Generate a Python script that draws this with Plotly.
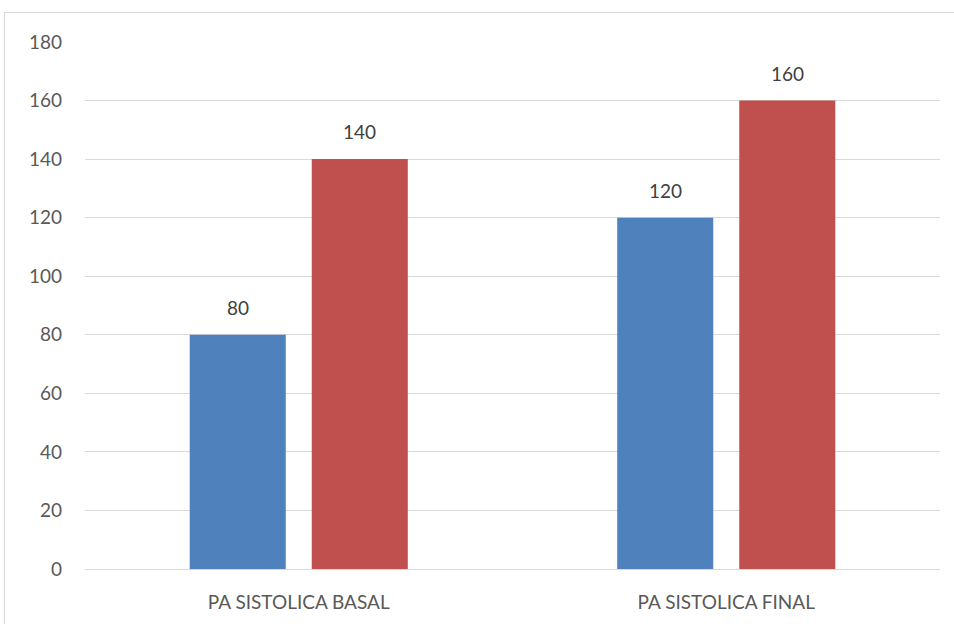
import plotly.graph_objects as go

# Chart data
categories = ["PA SISTOLICA BASAL", "PA SISTOLICA FINAL"]
serie_1 = [80, 120]
serie_2 = [140, 160]
y_ticks = [0, 20, 40, 60, 80, 100, 120, 140, 160, 180]

BLUE = "#4F81BD"
RED = "#C0504D"
FONT = "Lato, 'Open Sans', sans-serif"

fig = go.Figure()
fig.add_trace(go.Bar(x=categories, y=serie_1, marker=dict(color=BLUE, line=dict(width=0)),
                     name="Serie 1", hoverinfo="x+y"))
fig.add_trace(go.Bar(x=categories, y=serie_2, marker=dict(color=RED, line=dict(width=0)),
                     name="Serie 2", hoverinfo="x+y"))

# Value labels above each bar
for vals, shift in ((serie_1, -61), (serie_2, 61)):
    for cat, v in zip(categories, vals):
        fig.add_annotation(x=cat, y=v, text=str(v), showarrow=False,
                           xshift=shift, yshift=14, yanchor="bottom",
                           font=dict(family=FONT, size=19, color="#404040"))

# Outer chart frame
fig.add_shape(type="rect", xref="paper", yref="paper",
              x0=-0.0942, y0=-0.115, x1=1.03, y1=1.056,
              line=dict(color="#D9D9D9", width=1.2), fillcolor="rgba(0,0,0,0)",
              layer="below")

fig.update_layout(
    width=954, height=624,
    margin=dict(l=85, r=14, t=42, b=55),
    paper_bgcolor="white", plot_bgcolor="white",
    barmode="group", bargap=0.429, bargroupgap=0.213,
    showlegend=False,
    font=dict(family=FONT, color="#595959"),
    xaxis=dict(showgrid=False, showline=False, ticks="", ticklabelstandoff=20,
               tickfont=dict(family=FONT, size=19, color="#595959")),
    yaxis=dict(range=[0, 180], tickvals=y_ticks, showgrid=True,
               gridcolor="#D9D9D9", gridwidth=1.3, zeroline=True,
               zerolinecolor="#D9D9D9", zerolinewidth=1.3,
               showline=False, ticks="", ticklabelstandoff=22,
               tickfont=dict(family=FONT, size=19, color="#595959")),
)

fig.write_html("out.html")
